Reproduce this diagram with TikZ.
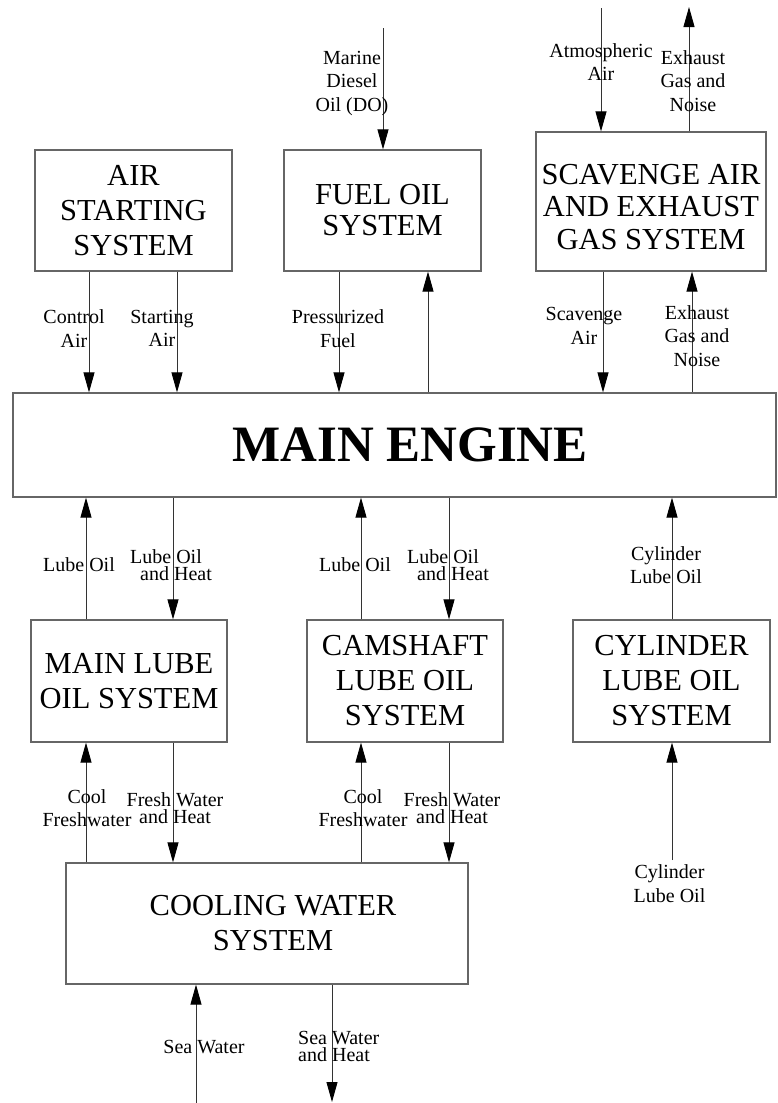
\documentclass[tikz,border=0pt]{standalone}
\usepackage{fontspec}
\setmainfont{Liberation Serif}
\usetikzlibrary{arrows.meta}
\begin{document}
\begin{tikzpicture}[x=1pt,y=-1pt,
  box/.style={draw=black!60, line width=1.2pt, rectangle, inner sep=0pt, align=center, font=\fontsize{30.5}{35}\selectfont},
  lbl/.style={inner sep=0pt, align=center, font=\fontsize{20}{23.5}\selectfont},
  tightA/.style={font=\fontsize{20}{16.5}\selectfont},
  tightB/.style={font=\fontsize{20}{17}\selectfont},
  arr/.style={draw=black!80, line width=0.9pt, -{Triangle[length=20pt,width=11pt,color=black,fill=black]}}]
\useasboundingbox (0,0) rectangle (777,1103);
% boxes
\node[box, minimum width=197pt, minimum height=121pt] (air) at (133.5,210.5) {AIR\\STARTING\\SYSTEM};
\node[box, minimum width=197pt, minimum height=121pt, font=\fontsize{30.5}{31}\selectfont] (fuel) at (382.5,210.5) {FUEL OIL\\SYSTEM};
\node[box, minimum width=230pt, minimum height=139pt] (scav) at (651,201.5) {};
\node[inner sep=0pt, align=center, font=\fontsize{30.5}{32.5}\selectfont] (scavtxt) at (651,207) {SCAVENGE AIR\\AND EXHAUST\\GAS SYSTEM};
\node[box, minimum width=763pt, minimum height=104pt, font=\bfseries\fontsize{51}{55}\selectfont] (main) at (394.5,445) {\hspace*{31pt}MAIN ENGINE};
\node[box, minimum width=196pt, minimum height=122pt] (mlube) at (129,681) {MAIN LUBE\\OIL SYSTEM};
\node[box, minimum width=196pt, minimum height=122pt] (cam) at (405,681) {CAMSHAFT\\LUBE OIL\\SYSTEM};
\node[box, minimum width=197pt, minimum height=122pt] (cyl) at (671.5,681) {CYLINDER\\LUBE OIL\\SYSTEM};
\node[box, minimum width=402pt, minimum height=121pt] (cool) at (267,923.5) {\hspace*{12pt}COOLING WATER\\\hspace*{12pt}SYSTEM};
% x positions
\coordinate (c1) at (89,0);
\coordinate (c2) at (177,0);
\coordinate (c3) at (339,0);
\coordinate (c4) at (428,0);
\coordinate (c5) at (603,0);
\coordinate (c6) at (692,0);
\coordinate (c7) at (86,0);
\coordinate (c8) at (173,0);
\coordinate (c9) at (361,0);
\coordinate (c10) at (449,0);
\coordinate (c11) at (672,0);
% free ends
\coordinate (mdo) at (383,28);
\coordinate (atm) at (601,8);
\coordinate (exh) at (689,7);
\coordinate (clo) at (672,860);
\coordinate (sw) at (196,1103);
\coordinate (swh) at (332,1102);
% arrows
\draw[arr] (air.south -| c1) -- (main.north -| c1);
\draw[arr] (air.south -| c2) -- (main.north -| c2);
\draw[arr] (fuel.south -| c3) -- (main.north -| c3);
\draw[arr] (main.north -| c4) -- (fuel.south -| c4);
\draw[arr] (scav.south -| c5) -- (main.north -| c5);
\draw[arr] (main.north -| c6) -- (scav.south -| c6);
\draw[arr] (mdo) -- (fuel.north -| mdo);
\draw[arr] (atm) -- (scav.north -| atm);
\draw[arr] (scav.north -| exh) -- (exh);
\draw[arr] (mlube.north -| c7) -- (main.south -| c7);
\draw[arr] (main.south -| c8) -- (mlube.north -| c8);
\draw[arr] (cam.north -| c9) -- (main.south -| c9);
\draw[arr] (main.south -| c10) -- (cam.north -| c10);
\draw[arr] (cyl.north -| c11) -- (main.south -| c11);
\draw[arr] (cool.north -| c7) -- (mlube.south -| c7);
\draw[arr] (mlube.south -| c8) -- (cool.north -| c8);
\draw[arr] (cool.north -| c9) -- (cam.south -| c9);
\draw[arr] (cam.south -| c10) -- (cool.north -| c10);
\draw[arr] (clo) -- (cyl.south -| clo);
\draw[arr] (sw) -- (cool.south -| sw);
\draw[arr] (cool.south -| swh) -- (swh);
% labels
\node[lbl] (l1) at (74,328.5) {Control\\Air};
\node[lbl] (l2) at (162,328.5) {Starting\\Air};
\node[lbl] (l3) at (338,328.5) {Pressurized\\Fuel};
\node[lbl] (l4) at (352,83.5) {Marine\\Diesel\\Oil (DO)};
\node[lbl] (l5) at (601,62) {Atmospheric\\Air};
\node[lbl] (l6) at (693,81) {Exhaust\\Gas and\\Noise};
\node[lbl] (l7) at (584,326) {Scavenge\\Air};
\node[lbl] (l8) at (697,336) {Exhaust\\Gas and\\Noise};
\node[lbl] (l9) at (79,565) {Lube Oil};
\node[lbl,tightA] (l10) at (166,565) {Lube Oil\\\hspace*{20pt}and Heat};
\node[lbl] (l11) at (355,565) {Lube Oil};
\node[lbl,tightA] (l12) at (443,565) {Lube Oil\\\hspace*{20pt}and Heat};
\node[lbl] (l13) at (666,565) {Cylinder\\Lube Oil};
\node[lbl] (l14) at (87,808) {Cool\\Freshwater};
\node[lbl,tightB] (l15) at (175,808.5) {Fresh Water\\and Heat};
\node[lbl] (l16) at (363,808) {Cool\\Freshwater};
\node[lbl,tightB] (l17) at (452,808.5) {Fresh Water\\and Heat};
\node[lbl] (l18) at (669.5,883.5) {Cylinder\\Lube Oil};
\node[lbl] (l19) at (204,1047) {Sea Water};
\node[lbl,tightB,align=left,anchor=west] (l20) at (298,1046.5) {Sea Water\\and Heat};
\end{tikzpicture}
\end{document}
